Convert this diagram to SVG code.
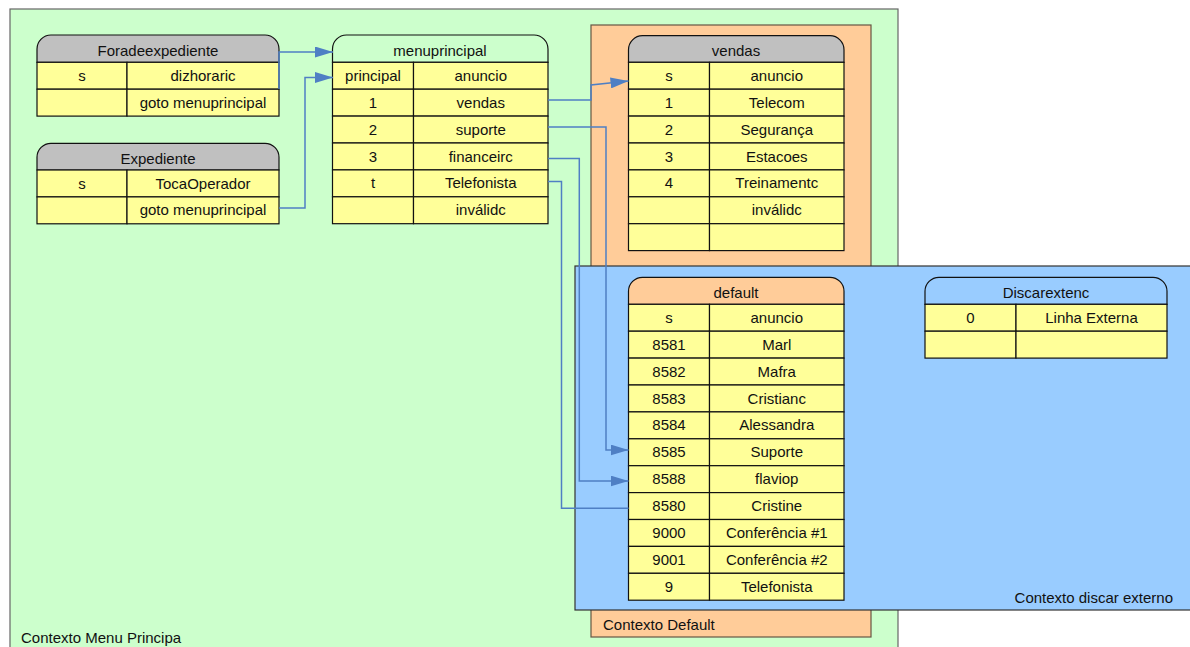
<svg xmlns="http://www.w3.org/2000/svg" width="1190" height="647" viewBox="0 0 1190 647">
<style>
text{font-family:"Liberation Sans",Arial,sans-serif;font-size:15px;fill:#111;text-anchor:middle}
.lbl{text-anchor:start}
.c{fill:#FFFF99;stroke:#111;stroke-width:1.2}
.hg{fill:#C0C0C0;stroke:#111;stroke-width:1.2}
.hgr{fill:#CCFFCC;stroke:#111;stroke-width:1.2}
.ho{fill:#FFCC99;stroke:#111;stroke-width:1.2}
.hb{fill:#99CCFF;stroke:#111;stroke-width:1.2}
.con{fill:none;stroke:#4F7FC4;stroke-width:1.5}
</style>
<defs>
<marker id="ah" markerUnits="userSpaceOnUse" viewBox="0 0 18 11" markerWidth="18" markerHeight="11" refX="18" refY="5.5" orient="auto">
<path d="M0,0 L18,5.5 L0,11 Z" fill="#4F7FC4"/>
</marker>
</defs>
<rect width="1190" height="647" fill="#FFFFFF"/>
<g id="ctx-menu">
<rect x="10" y="9" width="888" height="645" fill="#CCFFCC" stroke="#666" stroke-width="1.2"/>
<text class="lbl" x="21" y="643">Contexto Menu Principa</text>
</g>
<g id="ctx-default">
<rect x="591" y="25" width="280" height="612" fill="#FFCC99" stroke="#665544" stroke-width="1.2"/>
<text class="lbl" x="603" y="630">Contexto Default</text>
</g>
<g id="ctx-discar">
<rect x="575" y="266" width="625" height="344" fill="#99CCFF" stroke="#333" stroke-width="1.2"/>
<text x="1173" y="603" style="text-anchor:end">Contexto discar externo</text>
</g>
<g id="foradeexpediente">
<path class="hg" d="M37,62.3 V49 A14,14 0 0 1 51,35 H265 A14,14 0 0 1 279,49 V62.3 Z"/>
<text x="158" y="56.3">Foradeexpediente</text>
<rect class="c" x="37" y="62.3" width="90" height="26.9"/><rect class="c" x="127" y="62.3" width="152" height="26.9"/>
<rect class="c" x="37" y="89.2" width="90" height="26.9"/><rect class="c" x="127" y="89.2" width="152" height="26.9"/>
<text x="82" y="80.8">s</text><text x="203" y="80.8">dizhoraric</text>
<text x="203" y="107.7">goto menuprincipal</text>
</g>
<g id="expediente">
<path class="hg" d="M37,170 V157.3 A14,14 0 0 1 51,143.3 H265 A14,14 0 0 1 279,157.3 V170 Z"/>
<text x="158" y="164">Expediente</text>
<rect class="c" x="37" y="170" width="90" height="26.9"/><rect class="c" x="127" y="170" width="152" height="26.9"/>
<rect class="c" x="37" y="196.9" width="90" height="26.9"/><rect class="c" x="127" y="196.9" width="152" height="26.9"/>
<text x="82" y="188.5">s</text><text x="203" y="188.5">TocaOperador</text>
<text x="203" y="215.4">goto menuprincipal</text>
</g>
<g id="menuprincipal">
<path class="hgr" d="M332.5,62.3 V49 A14,14 0 0 1 346.5,35 H534 A14,14 0 0 1 548,49 V62.3 Z"/>
<text x="440" y="56.3">menuprincipal</text>
<rect class="c" x="332.5" y="62.3" width="81" height="26.9"/><rect class="c" x="413.5" y="62.3" width="134.5" height="26.9"/>
<rect class="c" x="332.5" y="89.2" width="81" height="26.9"/><rect class="c" x="413.5" y="89.2" width="134.5" height="26.9"/>
<rect class="c" x="332.5" y="116.1" width="81" height="26.9"/><rect class="c" x="413.5" y="116.1" width="134.5" height="26.9"/>
<rect class="c" x="332.5" y="143" width="81" height="26.9"/><rect class="c" x="413.5" y="143" width="134.5" height="26.9"/>
<rect class="c" x="332.5" y="169.9" width="81" height="26.9"/><rect class="c" x="413.5" y="169.9" width="134.5" height="26.9"/>
<rect class="c" x="332.5" y="196.8" width="81" height="26.9"/><rect class="c" x="413.5" y="196.8" width="134.5" height="26.9"/>
<text x="373" y="80.8">principal</text><text x="480.75" y="80.8">anuncio</text>
<text x="373" y="107.7">1</text><text x="480.75" y="107.7">vendas</text>
<text x="373" y="134.6">2</text><text x="480.75" y="134.6">suporte</text>
<text x="373" y="161.5">3</text><text x="480.75" y="161.5">financeirc</text>
<text x="373" y="188.4">t</text><text x="480.75" y="188.4">Telefonista</text>
<text x="480.75" y="215.3">inválidc</text>
</g>
<g id="vendas">
<path class="hg" d="M628.5,62.3 V49.7 A14,14 0 0 1 642.5,35.7 H830 A14,14 0 0 1 844,49.7 V62.3 Z"/>
<text x="736" y="56.3">vendas</text>
<rect class="c" x="628.5" y="62.3" width="81" height="26.9"/><rect class="c" x="709.5" y="62.3" width="134.5" height="26.9"/>
<rect class="c" x="628.5" y="89.2" width="81" height="26.9"/><rect class="c" x="709.5" y="89.2" width="134.5" height="26.9"/>
<rect class="c" x="628.5" y="116.1" width="81" height="26.9"/><rect class="c" x="709.5" y="116.1" width="134.5" height="26.9"/>
<rect class="c" x="628.5" y="143" width="81" height="26.9"/><rect class="c" x="709.5" y="143" width="134.5" height="26.9"/>
<rect class="c" x="628.5" y="169.9" width="81" height="26.9"/><rect class="c" x="709.5" y="169.9" width="134.5" height="26.9"/>
<rect class="c" x="628.5" y="196.8" width="81" height="26.9"/><rect class="c" x="709.5" y="196.8" width="134.5" height="26.9"/>
<rect class="c" x="628.5" y="223.7" width="81" height="26.9"/><rect class="c" x="709.5" y="223.7" width="134.5" height="26.9"/>
<text x="669" y="80.8">s</text><text x="776.75" y="80.8">anuncio</text>
<text x="669" y="107.7">1</text><text x="776.75" y="107.7">Telecom</text>
<text x="669" y="134.6">2</text><text x="776.75" y="134.6">Segurança</text>
<text x="669" y="161.5">3</text><text x="776.75" y="161.5">Estacoes</text>
<text x="669" y="188.4">4</text><text x="776.75" y="188.4">Treinamentc</text>
<text x="776.75" y="215.3">inválidc</text>
</g>
<g id="default">
<path class="ho" d="M628.5,304.3 V291.3 A14,14 0 0 1 642.5,277.3 H830 A14,14 0 0 1 844,291.3 V304.3 Z"/>
<text x="736" y="298.3">default</text>
<rect class="c" x="628.5" y="304.3" width="81" height="26.9"/><rect class="c" x="709.5" y="304.3" width="134.5" height="26.9"/>
<rect class="c" x="628.5" y="331.2" width="81" height="26.9"/><rect class="c" x="709.5" y="331.2" width="134.5" height="26.9"/>
<rect class="c" x="628.5" y="358.1" width="81" height="26.9"/><rect class="c" x="709.5" y="358.1" width="134.5" height="26.9"/>
<rect class="c" x="628.5" y="385" width="81" height="26.9"/><rect class="c" x="709.5" y="385" width="134.5" height="26.9"/>
<rect class="c" x="628.5" y="411.9" width="81" height="26.9"/><rect class="c" x="709.5" y="411.9" width="134.5" height="26.9"/>
<rect class="c" x="628.5" y="438.8" width="81" height="26.9"/><rect class="c" x="709.5" y="438.8" width="134.5" height="26.9"/>
<rect class="c" x="628.5" y="465.7" width="81" height="26.9"/><rect class="c" x="709.5" y="465.7" width="134.5" height="26.9"/>
<rect class="c" x="628.5" y="492.6" width="81" height="26.9"/><rect class="c" x="709.5" y="492.6" width="134.5" height="26.9"/>
<rect class="c" x="628.5" y="519.5" width="81" height="26.9"/><rect class="c" x="709.5" y="519.5" width="134.5" height="26.9"/>
<rect class="c" x="628.5" y="546.4" width="81" height="26.9"/><rect class="c" x="709.5" y="546.4" width="134.5" height="26.9"/>
<rect class="c" x="628.5" y="573.3" width="81" height="26.9"/><rect class="c" x="709.5" y="573.3" width="134.5" height="26.9"/>
<text x="669" y="322.8">s</text><text x="776.75" y="322.8">anuncio</text>
<text x="669" y="349.7">8581</text><text x="776.75" y="349.7">Marl</text>
<text x="669" y="376.6">8582</text><text x="776.75" y="376.6">Mafra</text>
<text x="669" y="403.5">8583</text><text x="776.75" y="403.5">Cristianc</text>
<text x="669" y="430.4">8584</text><text x="776.75" y="430.4">Alessandra</text>
<text x="669" y="457.3">8585</text><text x="776.75" y="457.3">Suporte</text>
<text x="669" y="484.2">8588</text><text x="776.75" y="484.2">flaviop</text>
<text x="669" y="511.1">8580</text><text x="776.75" y="511.1">Cristine</text>
<text x="669" y="538">9000</text><text x="776.75" y="538">Conferência #1</text>
<text x="669" y="564.9">9001</text><text x="776.75" y="564.9">Conferência #2</text>
<text x="669" y="591.8">9</text><text x="776.75" y="591.8">Telefonista</text>
</g>
<g id="discarextenc">
<path class="hb" d="M925,304.3 V291.3 A14,14 0 0 1 939,277.3 H1153 A14,14 0 0 1 1167,291.3 V304.3 Z"/>
<text x="1046" y="298.3">Discarextenc</text>
<rect class="c" x="925" y="304.3" width="91" height="26.9"/><rect class="c" x="1016" y="304.3" width="151" height="26.9"/>
<rect class="c" x="925" y="331.2" width="91" height="26.9"/><rect class="c" x="1016" y="331.2" width="151" height="26.9"/>
<text x="970.5" y="322.8">0</text><text x="1091.5" y="322.8">Linha Externa</text>
</g>
<g id="connectors">
<path class="con" d="M279,89 V52 H333" marker-end="url(#ah)"/>
<path class="con" d="M279,208 H305 V77.5 H333" marker-end="url(#ah)"/>
<path class="con" d="M548,100 H591 V85 L628.5,81" marker-end="url(#ah)"/>
<path class="con" d="M548,127 H606 V450 H628.5" marker-end="url(#ah)"/>
<path class="con" d="M548,158.5 H579.3 V481 H628.5" marker-end="url(#ah)"/>
<path class="con" d="M548,181.5 H561.5 V508.3 H628.5"/>
</g>
</svg>
